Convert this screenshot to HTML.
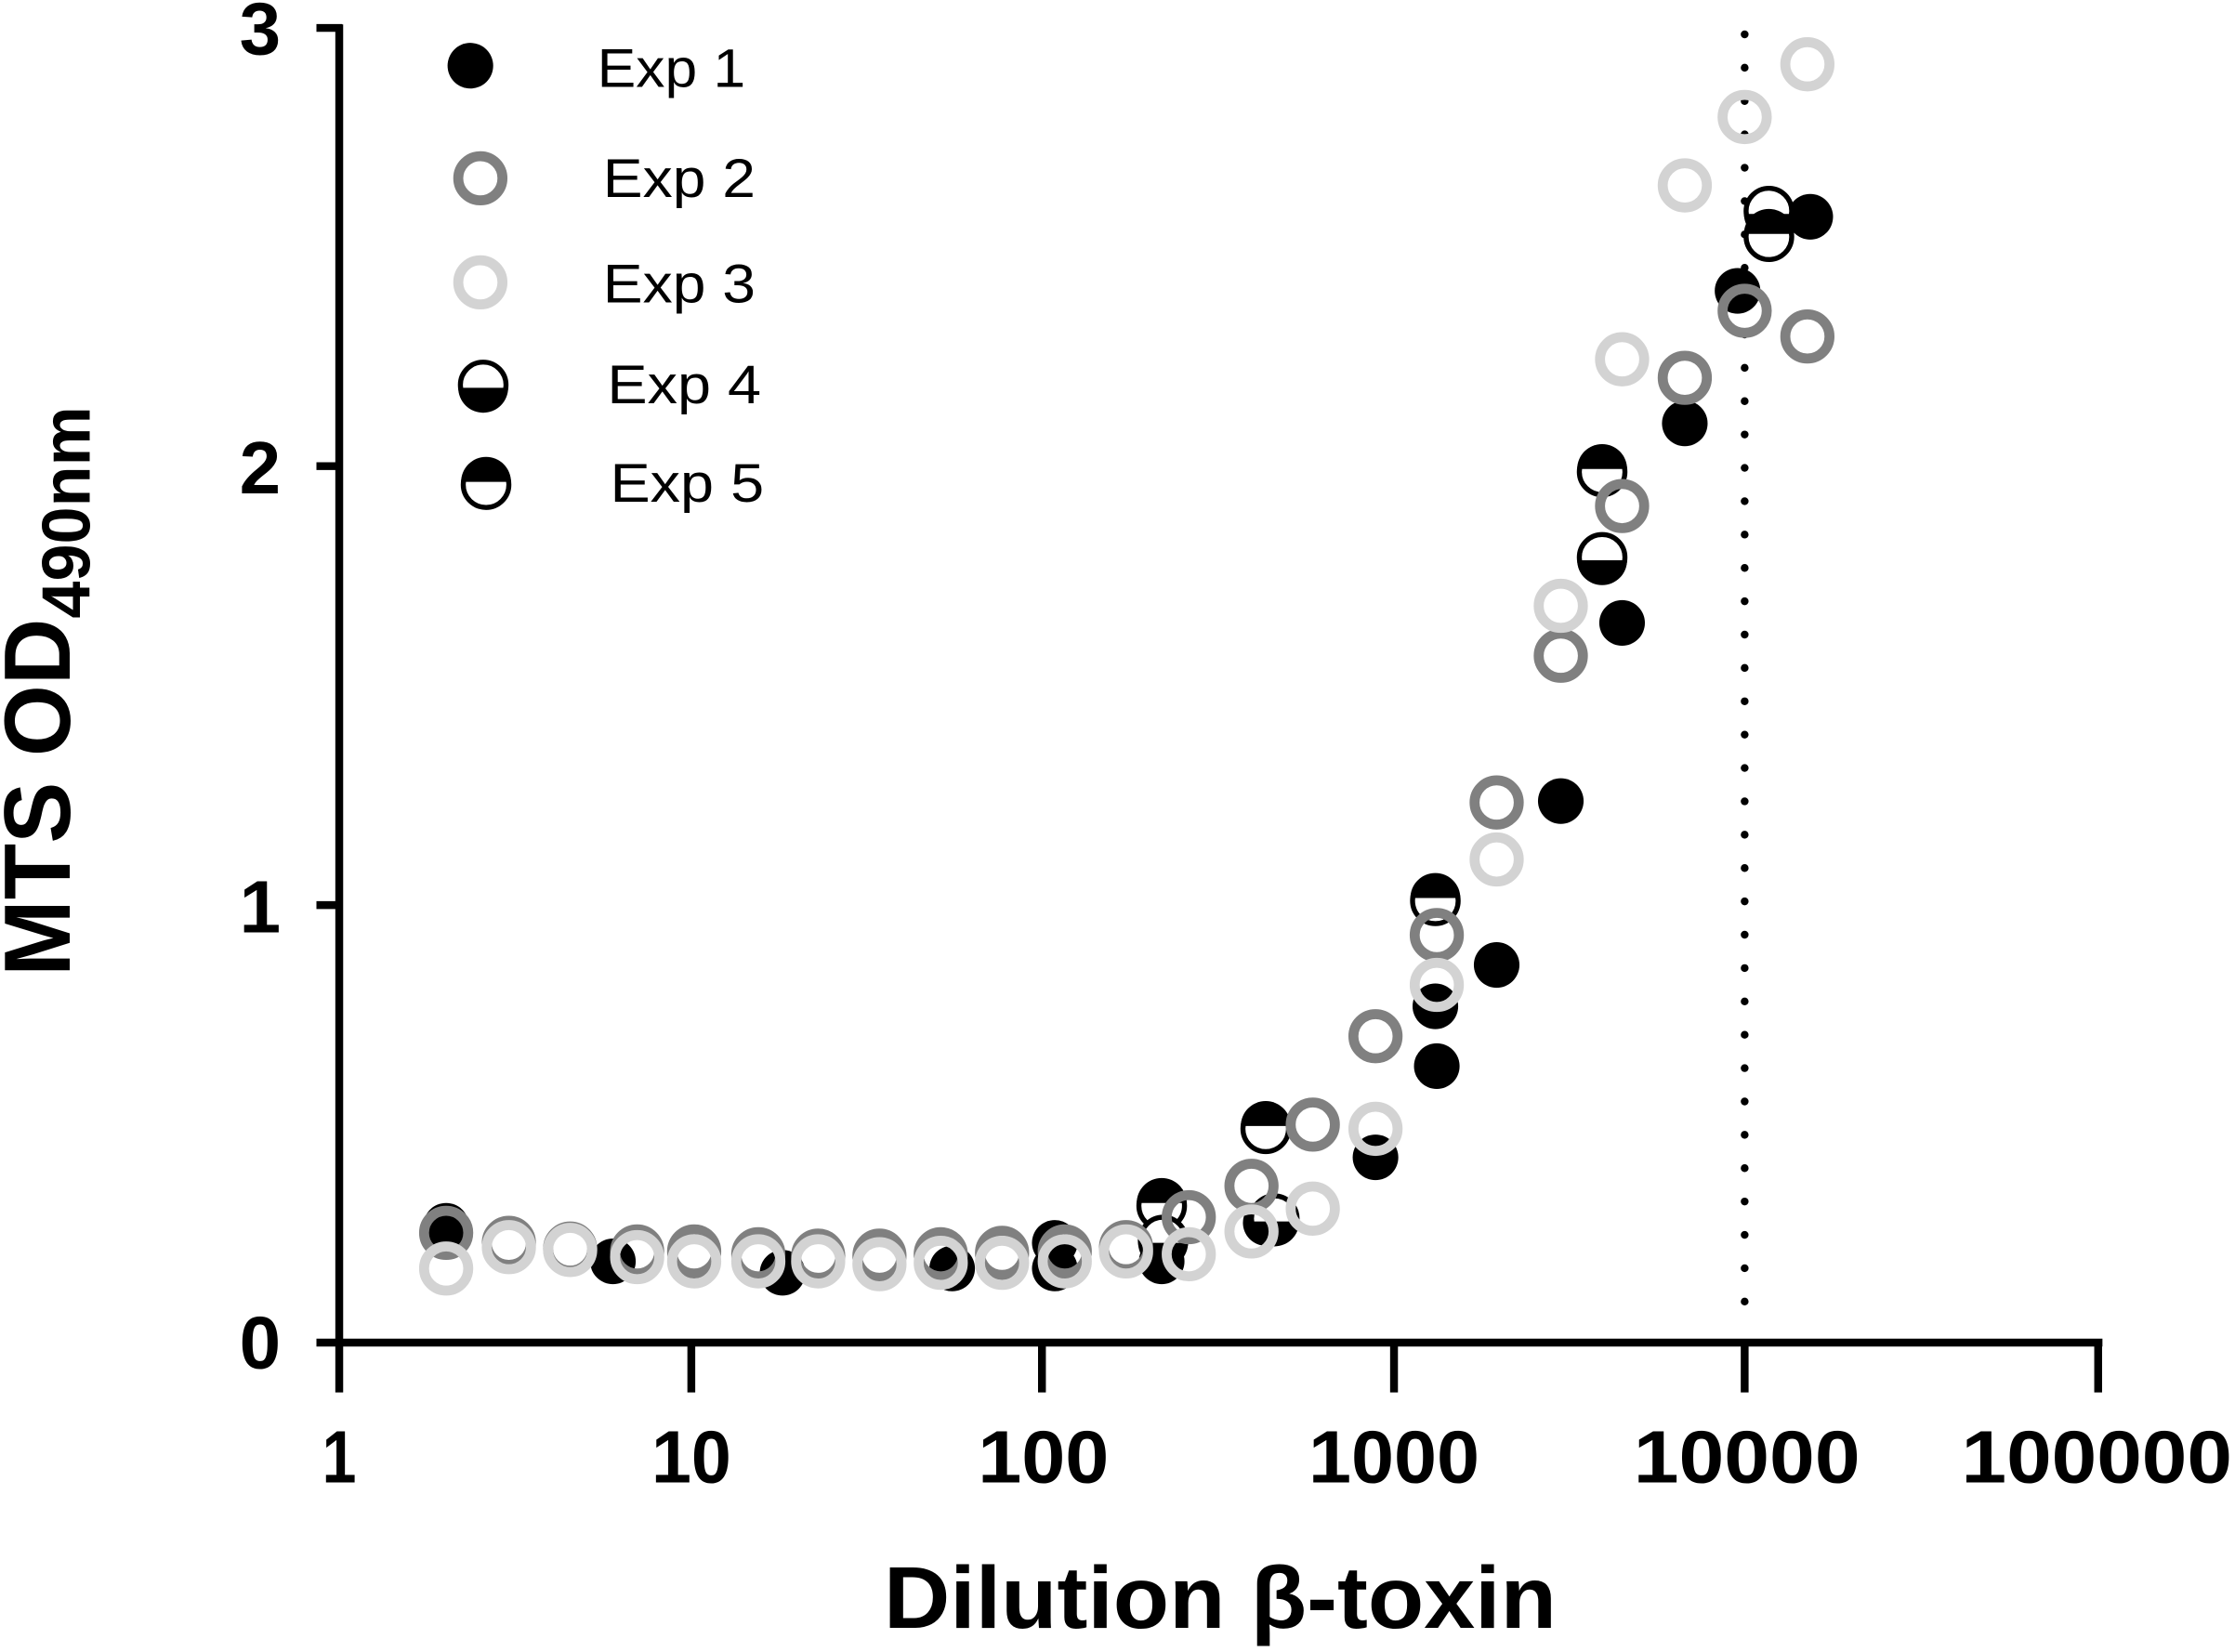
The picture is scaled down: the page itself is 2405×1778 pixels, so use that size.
<!DOCTYPE html>
<html><head><meta charset="utf-8"><style>html,body{margin:0;padding:0;background:#fff}svg{display:block}</style></head>
<body>
<svg width="2405" height="1778" viewBox="0 0 1568 1159" xmlns="http://www.w3.org/2000/svg" font-family="Liberation Sans, Arial, sans-serif">
<defs>
<g id="e1"><circle r="16" fill="#000"/></g>
<g id="e2"><circle r="15.5" fill="none" stroke="#808080" stroke-width="7"/></g>
<g id="e3"><circle r="15.5" fill="none" stroke="#d3d3d3" stroke-width="7"/></g>
<g id="e4"><circle r="16" fill="#fff" stroke="#000" stroke-width="3.5"/><path d="M-17.5,2 A17.5,17.5 0 0 0 17.5,2 Z" fill="#000"/></g>
<g id="e5"><circle r="16" fill="#fff" stroke="#000" stroke-width="3.5"/><path d="M-17.5,-2 A17.5,17.5 0 0 1 17.5,-2 Z" fill="#000"/></g>
</defs>
<g stroke="#000" stroke-width="5.5" fill="none">
<line x1="238" y1="17" x2="238" y2="977"/>
<line x1="222" y1="942" x2="1475" y2="942"/>
<line x1="222" y1="19.5" x2="240" y2="19.5"/>
<line x1="222" y1="327" x2="240" y2="327"/>
<line x1="222" y1="635" x2="240" y2="635"/>
<line x1="485" y1="942" x2="485" y2="977"/>
<line x1="731" y1="942" x2="731" y2="977"/>
<line x1="978" y1="942" x2="978" y2="977"/>
<line x1="1224" y1="942" x2="1224" y2="977"/>
<line x1="1472" y1="942" x2="1472" y2="977"/>
</g>
<line x1="1224" y1="24" x2="1224" y2="935" stroke="#000" stroke-width="5.5" stroke-linecap="round" stroke-dasharray="0 23.4"/>
<g font-weight="bold" font-size="52" text-anchor="end">
<text x="197" y="38" textLength="29" lengthAdjust="spacingAndGlyphs">3</text><text x="197" y="346" textLength="29" lengthAdjust="spacingAndGlyphs">2</text><text x="197" y="654" textLength="29" lengthAdjust="spacingAndGlyphs">1</text><text x="197" y="960" textLength="29" lengthAdjust="spacingAndGlyphs">0</text>
</g>
<g font-weight="bold" font-size="52">
<text x="226" y="1040" textLength="24" lengthAdjust="spacingAndGlyphs">1</text>
<text x="457" y="1040" textLength="56" lengthAdjust="spacingAndGlyphs">10</text>
<text x="686" y="1040" textLength="92" lengthAdjust="spacingAndGlyphs">100</text>
<text x="918" y="1040" textLength="120" lengthAdjust="spacingAndGlyphs">1000</text>
<text x="1146" y="1040" textLength="159" lengthAdjust="spacingAndGlyphs">10000</text>
<text x="1376" y="1040" textLength="190" lengthAdjust="spacingAndGlyphs">100000</text>
</g>
<text x="620" y="1142" font-weight="bold" font-size="62" textLength="472" lengthAdjust="spacingAndGlyphs">Dilution β-toxin</text>
<text transform="translate(49,685) rotate(-90)" font-weight="bold" font-size="66" textLength="400" lengthAdjust="spacingAndGlyphs">MTS OD<tspan font-size="48" dy="14">490nm</tspan></text>
<use href="#e1" x="330" y="46"/><use href="#e2" x="337" y="125"/><use href="#e3" x="337" y="198"/><use href="#e4" x="339" y="270"/><use href="#e5" x="341" y="340"/>
<g font-size="38">
<text x="419" y="61" textLength="104" lengthAdjust="spacingAndGlyphs">Exp 1</text><text x="423" y="138" textLength="107" lengthAdjust="spacingAndGlyphs">Exp 2</text><text x="423" y="212" textLength="107" lengthAdjust="spacingAndGlyphs">Exp 3</text><text x="426" y="283" textLength="108" lengthAdjust="spacingAndGlyphs">Exp 4</text><text x="428" y="352" textLength="108" lengthAdjust="spacingAndGlyphs">Exp 5</text>
</g>
<g>
<use href="#e1" x="313" y="860"/><use href="#e1" x="430" y="885"/><use href="#e1" x="549" y="893"/><use href="#e1" x="668" y="890"/><use href="#e1" x="740" y="872"/><use href="#e1" x="740" y="890"/><use href="#e1" x="815" y="885"/><use href="#e1" x="888" y="858"/><use href="#e1" x="965" y="812"/><use href="#e1" x="1007" y="706"/><use href="#e1" x="1008" y="748"/><use href="#e1" x="1050" y="677"/><use href="#e1" x="1095" y="562"/><use href="#e1" x="1125" y="392"/><use href="#e1" x="1138" y="437"/><use href="#e1" x="1182" y="297"/><use href="#e1" x="1219" y="204"/><use href="#e1" x="1270" y="152"/>
</g>
<use href="#e5" x="815" y="846"/><use href="#e4" x="816" y="870"/><use href="#e5" x="888" y="792"/><use href="#e4" x="894" y="855"/><use href="#e5" x="1007" y="632"/><use href="#e5" x="1124" y="331"/><use href="#e4" x="1124" y="391"/><use href="#e4" x="1241" y="148"/><use href="#e5" x="1241" y="166"/>
<g>
<use href="#e2" x="313" y="865"/><use href="#e2" x="357" y="872"/><use href="#e2" x="400" y="876"/><use href="#e2" x="447" y="878"/><use href="#e2" x="487" y="878"/><use href="#e2" x="532" y="880"/><use href="#e2" x="574" y="881"/><use href="#e2" x="617" y="881"/><use href="#e2" x="660" y="880"/><use href="#e2" x="703" y="879"/><use href="#e2" x="747" y="878"/><use href="#e2" x="790" y="875"/><use href="#e2" x="834" y="854"/><use href="#e2" x="878" y="832"/><use href="#e2" x="921" y="789"/><use href="#e2" x="965" y="727"/><use href="#e2" x="1008" y="656"/><use href="#e2" x="1050" y="563"/><use href="#e2" x="1095" y="460"/><use href="#e2" x="1138" y="355"/><use href="#e2" x="1182" y="265"/><use href="#e2" x="1224" y="218"/><use href="#e2" x="1268" y="236"/>
</g>
<g>
<use href="#e3" x="313" y="890"/><use href="#e3" x="357" y="875"/><use href="#e3" x="400" y="877"/><use href="#e3" x="447" y="882"/><use href="#e3" x="487" y="885"/><use href="#e3" x="532" y="885"/><use href="#e3" x="574" y="885"/><use href="#e3" x="617" y="887"/><use href="#e3" x="660" y="886"/><use href="#e3" x="703" y="886"/><use href="#e3" x="747" y="885"/><use href="#e3" x="790" y="878"/><use href="#e3" x="834" y="880"/><use href="#e3" x="878" y="864"/><use href="#e3" x="921" y="848"/><use href="#e3" x="965" y="792"/><use href="#e3" x="1008" y="691"/><use href="#e3" x="1050" y="603"/><use href="#e3" x="1095" y="425"/><use href="#e3" x="1138" y="252"/><use href="#e3" x="1182" y="130"/><use href="#e3" x="1224" y="82"/><use href="#e3" x="1268" y="45"/>
</g>
</svg>
</body></html>
